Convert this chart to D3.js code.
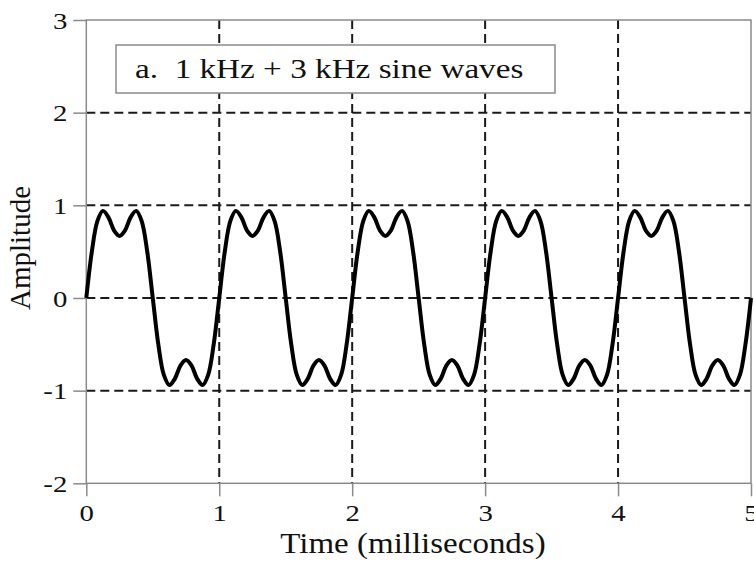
<!DOCTYPE html>
<html>
<head>
<meta charset="utf-8">
<script src="https://cdn.jsdelivr.net/npm/d3@7"></script>
<style>
  body { margin: 0; background: #fff; }
  svg { display: block; }
  text { font-family: "Liberation Serif", "Times New Roman", serif; fill: #111; }
  .frame { fill: none; stroke: #8a8a8a; stroke-width: 1.5; }
  .grid line { stroke: #1a1a1a; stroke-width: 2; stroke-dasharray: 9,5; }
  .tick line { stroke: #8a8a8a; stroke-width: 1.5; }
  .wave { fill: none; stroke: #000; stroke-width: 4; stroke-linejoin: round; }
</style>
</head>
<body>
<div id="viz"></div>
<script>
// axis ticks
var xTicks = [0, 1, 2, 3, 4, 5];
var yTicks = [-2, -1, 0, 1, 2, 3];
var xGrid = [1, 2, 3, 4];
var yGrid = [-1, 0, 1, 2];

// samples every 1/24 ms
var sampleStep = 1 / 24;
var amplitude = [
  0, 0.50, 0.83, 0.94, 0.87, 0.73, 0.67, 0.73, 0.87, 0.94, 0.83, 0.50,
  0, -0.50, -0.83, -0.94, -0.87, -0.73, -0.67, -0.73, -0.87, -0.94, -0.83, -0.50,
  0, 0.50, 0.83, 0.94, 0.87, 0.73, 0.67, 0.73, 0.87, 0.94, 0.83, 0.50,
  0, -0.50, -0.83, -0.94, -0.87, -0.73, -0.67, -0.73, -0.87, -0.94, -0.83, -0.50,
  0, 0.50, 0.83, 0.94, 0.87, 0.73, 0.67, 0.73, 0.87, 0.94, 0.83, 0.50,
  0, -0.50, -0.83, -0.94, -0.87, -0.73, -0.67, -0.73, -0.87, -0.94, -0.83, -0.50,
  0, 0.50, 0.83, 0.94, 0.87, 0.73, 0.67, 0.73, 0.87, 0.94, 0.83, 0.50,
  0, -0.50, -0.83, -0.94, -0.87, -0.73, -0.67, -0.73, -0.87, -0.94, -0.83, -0.50,
  0, 0.50, 0.83, 0.94, 0.87, 0.73, 0.67, 0.73, 0.87, 0.94, 0.83, 0.50,
  0, -0.50, -0.83, -0.94, -0.87, -0.73, -0.67, -0.73, -0.87, -0.94, -0.83, -0.50,
  0
];
var legendText = "a.  1 kHz + 3 kHz sine waves";
var xTitle = "Time (milliseconds)";
var yTitle = "Amplitude";

var W = 754, H = 564;
var pLeft = 86.3, pRight = 751, pTop = 20, pBottom = 483.3;

var x = d3.scaleLinear().domain([0, 5]).range([pLeft, pRight]);
var y = d3.scaleLinear().domain([-2, 3]).range([pBottom, pTop]);

var svg = d3.select("#viz").append("svg")
    .attr("width", W)
    .attr("height", H);

// dashed grid
var grid = svg.append("g").attr("class", "grid");
grid.selectAll(".gx").data(xGrid).enter().append("line")
    .attr("x1", function(d){ return x(d); })
    .attr("x2", function(d){ return x(d); })
    .attr("y1", pTop)
    .attr("y2", pBottom);
grid.selectAll(".gy").data(yGrid).enter().append("line")
    .attr("x1", pLeft)
    .attr("x2", pRight)
    .attr("y1", function(d){ return y(d); })
    .attr("y2", function(d){ return y(d); });

// frame
svg.append("rect").attr("class", "frame")
    .attr("x", pLeft).attr("y", pTop)
    .attr("width", pRight - pLeft).attr("height", pBottom - pTop);

// axes (plain hyphen for negatives, like the original)
var fmt = function(d){ return String(d); };
var xAxis = svg.append("g")
    .attr("transform", "translate(0," + pBottom + ")")
    .call(d3.axisBottom(x).tickValues(xTicks).tickSize(13).tickPadding(6).tickFormat(fmt));
var yAxis = svg.append("g")
    .attr("transform", "translate(" + pLeft + ",0)")
    .call(d3.axisLeft(y).tickValues(yTicks).tickSize(13).tickPadding(6).tickFormat(fmt));
svg.selectAll(".domain").remove();

xAxis.selectAll(".tick text")
    .attr("font-size", 24)
    .attr("y", 21)
    .attr("dy", "0.71em")
    .attr("transform", "scale(1.2,1)");
yAxis.selectAll(".tick text")
    .attr("font-size", 24)
    .attr("dy", "0.34em")
    .attr("transform", "scale(1.2,1)")
    .attr("x", -19 / 1.2);

// wave
var line = d3.line()
    .x(function(d, i){ return x(i * sampleStep); })
    .y(function(d){ return y(d); })
    .curve(d3.curveCatmullRom);
svg.append("path").datum(amplitude)
    .attr("class", "wave")
    .attr("d", line);

// legend box
svg.append("rect")
    .attr("x", 116).attr("y", 45)
    .attr("width", 439).attr("height", 48)
    .attr("fill", "#fff")
    .attr("stroke", "#8a8a8a")
    .attr("stroke-width", 1.5);
svg.append("text")
    .attr("transform", "translate(135,78) scale(1.23,1)")
    .attr("font-size", 27)
    .style("white-space", "pre")
    .text(legendText);

// titles
svg.append("text")
    .attr("transform", "translate(413,553) scale(1.1,1)")
    .attr("text-anchor", "middle")
    .attr("font-size", 30)
    .text(xTitle);
svg.append("text")
    .attr("transform", "translate(30,248) rotate(-90)")
    .attr("text-anchor", "middle")
    .attr("font-size", 29)
    .text(yTitle);
</script>
</body>
</html>
